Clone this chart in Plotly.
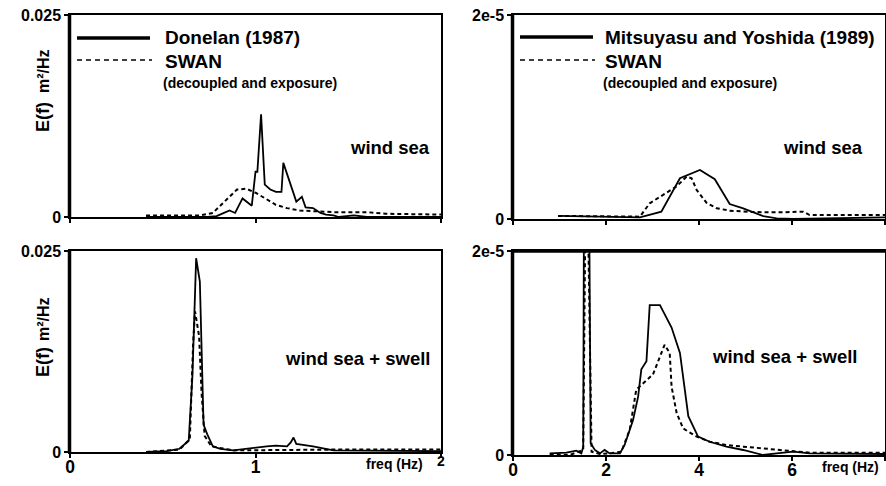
import plotly.graph_objects as go

# ---------------- data ----------------
# Panel (a): wind sea, Donelan (1987) vs SWAN
don_f = [0.41, 0.74, 0.79, 0.86, 0.89, 0.93, 0.98, 1.00, 1.01, 1.03, 1.05, 1.08, 1.11, 1.14, 1.15,
         1.18, 1.22, 1.25, 1.27, 1.31, 1.35, 1.38, 1.42, 1.45, 1.53, 1.60, 2.00]
don_E = [0.0, 0.0, 0.0001, 0.0008, 0.0005, 0.0023, 0.0014, 0.0056, 0.0056, 0.0127, 0.0040, 0.0034,
         0.0031, 0.0031, 0.0067, 0.0046, 0.0019, 0.0025, 0.0012, 0.0011, 0.0005, 0.0003, 0.0002,
         0.0, 0.0002, 0.0, 0.0]
swa1_f = [0.41, 0.70, 0.77, 0.84, 0.90, 0.95, 1.00, 1.06, 1.11, 1.17, 1.24, 1.33, 1.42, 1.60, 1.70, 2.00]
swa1_E = [0.0002, 0.0002, 0.0005, 0.0021, 0.0034, 0.0035, 0.0030, 0.0022, 0.0015, 0.0011, 0.0008,
          0.0007, 0.0006, 0.0006, 0.0004, 0.0003]

# Panel (b): wind sea, Mitsuyasu and Yoshida (1989) vs SWAN
mit_f = [0.97, 2.73, 3.19, 3.59, 4.02, 4.34, 4.66, 4.95, 5.38, 5.67, 6.03, 8.00]
mit_E = [0.3e-6, 0.16e-6, 0.72e-6, 4.0e-6, 4.8e-6, 3.9e-6, 1.47e-6, 1.05e-6, 0.29e-6, 0.07e-6, 0.0, 0.16e-6]
swa2_f = [0.97, 2.73, 2.94, 3.23, 3.52, 3.73, 3.84, 3.95, 4.16, 4.38, 4.66, 5.09, 5.67, 6.24, 6.38, 8.00]
swa2_E = [0.3e-6, 0.23e-6, 1.54e-6, 2.35e-6, 3.2e-6, 4.15e-6, 4.0e-6, 2.84e-6, 1.6e-6, 1.05e-6,
          0.82e-6, 0.69e-6, 0.65e-6, 0.72e-6, 0.39e-6, 0.39e-6]

# Panel (c): wind sea + swell, Donelan vs SWAN
don2_f = [0.41, 0.52, 0.59, 0.64, 0.66, 0.68, 0.70, 0.72, 0.74, 0.77, 0.81, 0.88, 1.06, 1.11, 1.17,
          1.19, 1.205, 1.22, 1.31, 1.42, 2.00]
don2_E = [0.0, 0.0001, 0.0004, 0.0014, 0.0095, 0.0241, 0.0212, 0.0034, 0.0022, 0.0007, 0.0004,
          0.0002, 0.0007, 0.0008, 0.0007, 0.0012, 0.0018, 0.0010, 0.0007, 0.0002, 0.0001]
swa3_f = [0.41, 0.59, 0.646, 0.664, 0.674, 0.696, 0.709, 0.726, 0.762, 0.88, 1.42, 2.00]
swa3_E = [0.0, 0.0003, 0.0016, 0.0136, 0.0175, 0.0144, 0.0074, 0.0020, 0.0007, 0.0002, 0.0003, 0.0003]

# Panel (d): wind sea + swell, Mitsuyasu and Yoshida vs SWAN
mit2_f = [0.79, 1.15, 1.36, 1.47, 1.51, 1.53, 1.63, 1.67, 1.76, 1.87, 1.97, 2.08, 2.30, 2.40, 2.58,
          2.69, 2.76, 2.87, 2.94, 3.16, 3.41, 3.59, 3.77, 3.98, 4.23, 4.59, 4.95, 5.38, 5.67, 6.03,
          6.38, 8.00]
mit2_E = [0.16e-6, 0.23e-6, 0.43e-6, 0.16e-6, 0.82e-6, 3.0e-5, 3.0e-5, 1.15e-6, 0.5e-6, 0.16e-6,
          0.5e-6, 0.16e-6, 0.16e-6, 0.98e-6, 3.4e-6, 5.7e-6, 8.4e-6, 9.2e-6, 14.7e-6, 14.7e-6,
          12.5e-6, 10.0e-6, 3.8e-6, 1.8e-6, 1.3e-6, 0.82e-6, 0.49e-6, 0.0, 0.16e-6, 0.33e-6,
          0.16e-6, 0.1e-6]
swa4_f = [0.79, 1.22, 1.51, 1.57, 1.59, 1.69, 1.87, 2.08, 2.33, 2.51, 2.65, 2.80, 3.01, 3.26, 3.37,
          3.41, 3.52, 3.66, 3.95, 4.23, 4.59, 4.95, 5.31, 5.67, 6.38, 8.00]
swa4_E = [0.1e-6, 0.0, 0.5e-6, 3.0e-5, 3.0e-5, 0.33e-6, 0.1e-6, 0.16e-6, 0.33e-6, 2.46e-6, 6.4e-6,
          7.05e-6, 7.9e-6, 10.8e-6, 10.0e-6, 6.7e-6, 4.1e-6, 2.6e-6, 1.8e-6, 1.3e-6, 0.98e-6,
          0.82e-6, 0.66e-6, 0.5e-6, 0.23e-6, 0.23e-6]

# tick labels
ytick_left = ["0", "0.025"]
ytick_right = ["0", "2e-5"]
xtick_left = ["0", "1", ""]
xtick_right = ["0", "2", "4", "6"]

# ---------------- figure ----------------
FONT = "Liberation Sans, Arial, sans-serif"
W, H = 886, 486

# panel pixel boxes (left, top, right, bottom)
boxes = {
    1: (70, 15, 441, 217),
    2: (513, 15, 885, 219),
    3: (70, 251, 441, 452),
    4: (513, 251, 885, 455),
}


def dom(b):
    l, t, r, btm = b
    return [l / W, r / W], [1 - btm / H, 1 - t / H]


fig = go.Figure()
solid = dict(color="black", width=1.8)
dashed = dict(color="black", width=2, dash="4px,3px")

series = [
    (1, don_f, don_E, solid), (1, swa1_f, swa1_E, dashed),
    (2, mit_f, mit_E, solid), (2, swa2_f, swa2_E, dashed),
    (3, don2_f, don2_E, solid), (3, swa3_f, swa3_E, dashed),
    (4, mit2_f, mit2_E, solid), (4, swa4_f, swa4_E, dashed),
]
for p, xs, ys, ln in series:
    fig.add_trace(go.Scatter(x=xs, y=ys, mode="lines", line=ln, showlegend=False,
                             xaxis="x" if p == 1 else f"x{p}",
                             yaxis="y" if p == 1 else f"y{p}"))

layout = {}
for p, b in boxes.items():
    xd, yd = dom(b)
    xk = "xaxis" if p == 1 else f"xaxis{p}"
    yk = "yaxis" if p == 1 else f"yaxis{p}"
    left = p in (1, 3)
    bottom = p in (3, 4)
    if left:
        xr, xtv, xtt = [0, 2], [0, 1, 2], xtick_left
        yr, ytv, ytt = [0, 0.025], [0, 0.025], ytick_left
    else:
        xr, xtv, xtt = [0, 8], [0, 2, 4, 6, 8], xtick_right + [""]
        yr, ytv, ytt = [0, 2e-5], [0, 2e-5], ytick_right
    layout[xk] = dict(
        domain=xd, range=xr, anchor=yk.replace("axis", ""), tickvals=xtv,
        ticktext=xtt if bottom else [""] * len(xtv), automargin=False,
        showgrid=False, zeroline=False, showline=True, mirror=True,
        linecolor="black", linewidth=2, ticklabelstandoff=-6,
        ticks="outside", ticklen=4, tickwidth=2, tickcolor="black",
        tickfont=dict(family=FONT, size=17.5, color="black", weight="bold"),
    )
    layout[yk] = dict(
        domain=yd, range=yr, anchor=xk.replace("axis", ""), tickvals=ytv, ticktext=ytt,
        automargin=False,
        showgrid=False, zeroline=False, showline=True, mirror=True,
        linecolor="black", linewidth=1.5,
        ticks="outside", ticklen=4, tickwidth=2, tickcolor="black",
        tickfont=dict(family=FONT, size=16, color="black", weight="bold"),
    )

shapes = []
annots = []
for p, (l, t, r, btm) in boxes.items():
    # heavier left frame line
    shapes.append(dict(type="line", xref="paper", yref="paper", x0=(l - 0.5) / W, x1=(l - 0.5) / W,
                       y0=1 - (t - 1) / H, y1=1 - (btm + 1) / H,
                       line=dict(color="black", width=3.5), layer="above"))
shapes.append(dict(type="line", xref="paper", yref="paper", x0=512 / W, x1=885 / W,
                   y0=1 - 251 / H, y1=1 - 251 / H, line=dict(color="black", width=3.5),
                   layer="above"))

# legend samples (top panels)
legend_items = [
    (77, 150, 38, 163, "Donelan (1987)"),
    (520, 593, 37, 603, "Mitsuyasu and Yoshida (1989)"),
]
for x0, x1, yy, tx, name in legend_items:
    shapes.append(dict(type="line", xref="paper", yref="paper", x0=x0 / W, x1=x1 / W,
                       y0=1 - yy / H, y1=1 - yy / H, line=dict(color="black", width=3.5)))
    shapes.append(dict(type="line", xref="paper", yref="paper", x0=x0 / W, x1=(x1 + 2) / W,
                       y0=1 - 60 / H, y1=1 - 60 / H,
                       line=dict(color="black", width=1.5, dash="5px,4px")))
    annots.append(dict(xref="paper", yref="paper", x=tx / W, y=1 - yy / H, xanchor="left",
                       yanchor="middle", showarrow=False, text=f"<b>{name}</b>",
                       font=dict(family=FONT, size=19, color="black")))
    annots.append(dict(xref="paper", yref="paper", x=tx / W, y=1 - 61 / H, xanchor="left",
                       yanchor="middle", showarrow=False, text="<b>SWAN</b>",
                       font=dict(family=FONT, size=19, color="black")))
    annots.append(dict(xref="paper", yref="paper", x=(tx - 2) / W, y=1 - 83 / H, xanchor="left",
                       yanchor="middle", showarrow=False, text="<b>(decoupled and exposure)</b>",
                       font=dict(family=FONT, size=14, color="black")))

# panel labels
for xx, yy, txt in [(390, 147, "wind sea"), (823, 147, "wind sea"),
                    (357, 358, "wind sea + swell"), (784, 356, "wind sea + swell")]:
    annots.append(dict(xref="paper", yref="paper", x=xx / W, y=1 - yy / H, xanchor="center",
                       yanchor="middle", showarrow=False, text=f"<b>{txt}</b>",
                       font=dict(family=FONT, size=18.5, color="black")))

# y-axis titles (two parts, stacked along the rotated axis)
for y_ef, y_unit in ((117, 71), (362, 319)):
    annots.append(dict(xref="paper", yref="paper", x=43 / W, y=1 - y_ef / H, xanchor="center",
                       yanchor="middle", showarrow=False, textangle=-90,
                       text="<b>E(f)</b>", font=dict(family=FONT, size=18, color="black")))
    annots.append(dict(xref="paper", yref="paper", x=43 / W, y=1 - y_unit / H, xanchor="center",
                       yanchor="middle", showarrow=False, textangle=-90,
                       text="<b>m²/Hz</b>", font=dict(family=FONT, size=16, color="black")))

# x-axis titles
for xx, yy in [(394, 464), (850, 467)]:
    annots.append(dict(xref="paper", yref="paper", x=xx / W, y=1 - yy / H, xanchor="center",
                       yanchor="middle", showarrow=False, text="<b>freq (Hz)</b>",
                       font=dict(family=FONT, size=14, color="black")))
# raised "2" at the end of the lower-left frequency axis
annots.append(dict(xref="x3", yref="paper", x=2, y=1 - 461 / H, xanchor="center",
                   yanchor="middle", showarrow=False, text="<b>2</b>",
                   font=dict(family=FONT, size=14, color="black")))

fig.update_layout(
    width=W, height=H, margin=dict(l=0, r=0, t=0, b=0, pad=0), autosize=False,
    paper_bgcolor="white", plot_bgcolor="white",
    shapes=shapes, annotations=annots, showlegend=False,
    **layout,
)

fig.write_html(
    "out.html",
    config={"displayModeBar": False},
    post_script="document.body.style.margin='0';document.body.style.padding='0';"
                "document.body.style.overflow='hidden';",
)
